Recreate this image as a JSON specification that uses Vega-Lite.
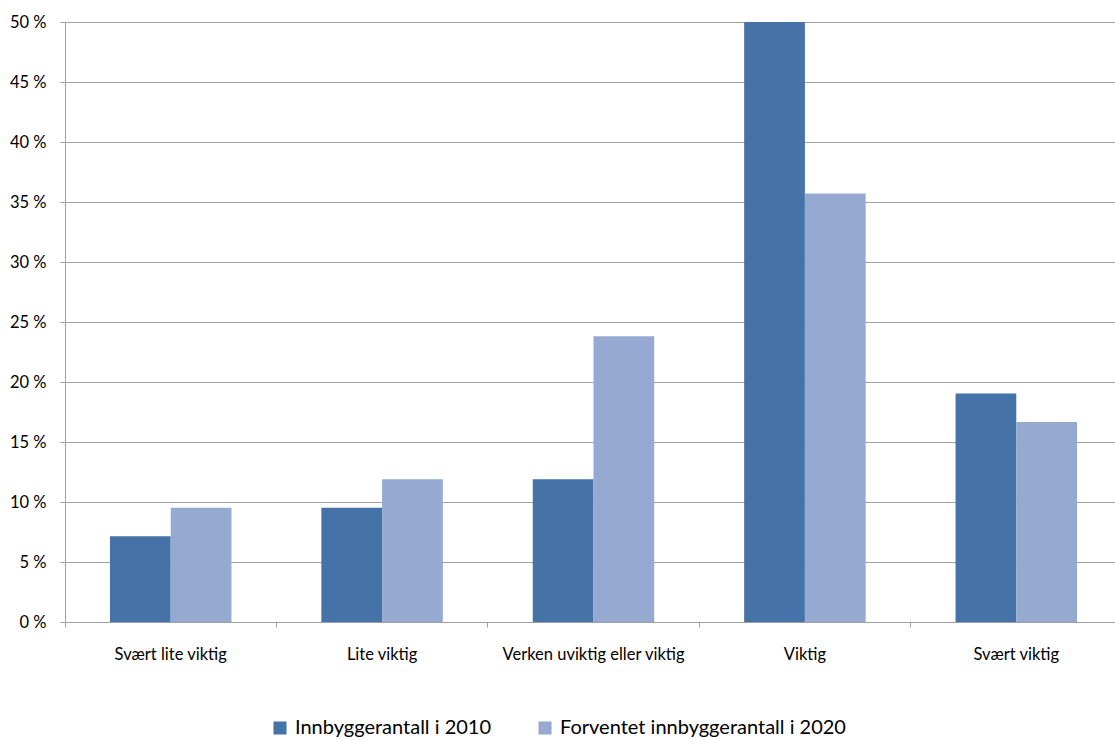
{
  "$schema": "https://vega.github.io/schema/vega-lite/v6.json",
  "autosize": {"type": "none"},
  "padding": {"left": 65, "top": 22, "right": 0, "bottom": 118},
  "width": 1057,
  "height": 600,
  "background": "white",
  "config": {
    "font": "Lato",
    "view": {"stroke": null}
  },
  "data": {
    "values": [
      {"kategori": "Svært lite viktig", "serie": "Innbyggerantall  i 2010", "verdi": 7.14},
      {"kategori": "Svært lite viktig", "serie": "Forventet innbyggerantall i 2020", "verdi": 9.52},
      {"kategori": "Lite viktig", "serie": "Innbyggerantall  i 2010", "verdi": 9.52},
      {"kategori": "Lite viktig", "serie": "Forventet innbyggerantall i 2020", "verdi": 11.9},
      {"kategori": "Verken uviktig eller viktig", "serie": "Innbyggerantall  i 2010", "verdi": 11.9},
      {"kategori": "Verken uviktig eller viktig", "serie": "Forventet innbyggerantall i 2020", "verdi": 23.81},
      {"kategori": "Viktig", "serie": "Innbyggerantall  i 2010", "verdi": 50.0},
      {"kategori": "Viktig", "serie": "Forventet innbyggerantall i 2020", "verdi": 35.71},
      {"kategori": "Svært viktig", "serie": "Innbyggerantall  i 2010", "verdi": 19.05},
      {"kategori": "Svært viktig", "serie": "Forventet innbyggerantall i 2020", "verdi": 16.67}
    ]
  },
  "mark": {"type": "bar"},
  "encoding": {
    "x": {
      "field": "kategori",
      "type": "nominal",
      "sort": ["Svært lite viktig", "Lite viktig", "Verken uviktig eller viktig", "Viktig", "Svært viktig"],
      "scale": {"paddingInner": 0, "paddingOuter": 0},
      "axis": {
        "title": null,
        "labelAngle": 0,
        "bandPosition": 0,
        "labelFontSize": 16.5,
        "labelColor": "#000000",
        "labelPadding": 19,
        "labelLimit": 0,
        "tickSize": 5,
        "tickColor": "#a0a0a0",
        "domainColor": "#a0a0a0",
        "grid": false
      }
    },
    "xOffset": {
      "field": "serie",
      "type": "nominal",
      "sort": ["Innbyggerantall  i 2010", "Forventet innbyggerantall i 2020"],
      "scale": {"paddingInner": 0, "paddingOuter": 0.74}
    },
    "y": {
      "field": "verdi",
      "type": "quantitative",
      "scale": {"domain": [0, 50], "nice": false},
      "axis": {
        "title": null,
        "values": [0, 5, 10, 15, 20, 25, 30, 35, 40, 45, 50],
        "labelExpr": "datum.value + ' %'",
        "labelFontSize": 16.5,
        "labelColor": "#000000",
        "labelPadding": 14,
        "tickSize": 5,
        "tickColor": "#a0a0a0",
        "domainColor": "#a0a0a0",
        "gridColor": "#a0a0a0",
        "gridOpacity": 1
      }
    },
    "color": {
      "field": "serie",
      "type": "nominal",
      "sort": ["Innbyggerantall  i 2010", "Forventet innbyggerantall i 2020"],
      "scale": {"range": ["#4573A7", "#95A9D1"]},
      "legend": {
        "title": null,
        "orient": "none",
        "direction": "horizontal",
        "legendX": 205,
        "legendY": 696,
        "symbolType": "square",
        "symbolSize": 170,
        "symbolStrokeWidth": 0,
        "labelFontSize": 20,
        "labelLimit": 0,
        "labelColor": "#000000",
        "columnPadding": 38,
        "labelOffset": 5
      }
    }
  }
}
